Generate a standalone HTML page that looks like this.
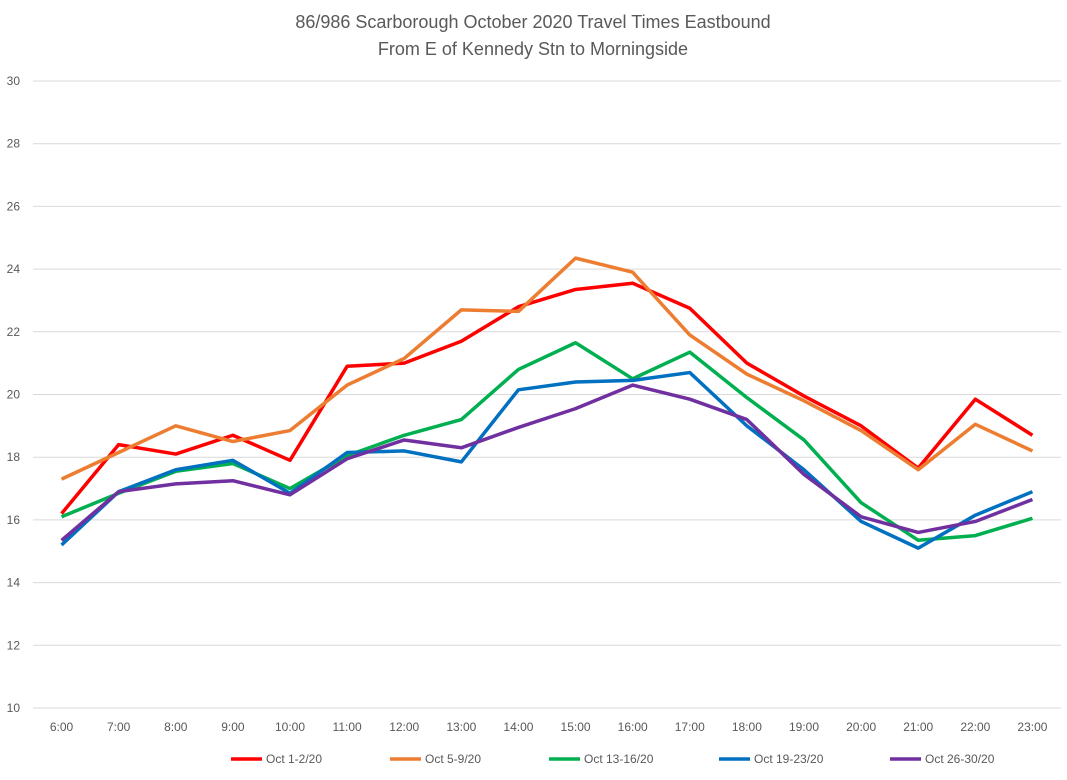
<!DOCTYPE html>
<html><head><meta charset="utf-8"><style>
body{margin:0;background:#fff;font-family:"Liberation Sans",sans-serif}
svg text{font-family:"Liberation Sans",sans-serif;fill:#595959}
</style></head><body>
<svg id="c" width="1067" height="775"></svg>
<script>
const categories=["6:00","7:00","8:00","9:00","10:00","11:00","12:00","13:00","14:00","15:00","16:00","17:00","18:00","19:00","20:00","21:00","22:00","23:00"];
const seriesNames=["Oct 1-2/20","Oct 5-9/20","Oct 13-16/20","Oct 19-23/20","Oct 26-30/20"];
const seriesColors=["#ff0000","#ed7d31","#00b050","#0070c0","#7030a0"];
const red=[16.2,18.4,18.1,18.7,17.9,20.9,21.0,21.7,22.8,23.35,23.55,22.75,21.0,19.95,19.0,17.65,19.85,18.7];
const orange=[17.3,18.15,19.0,18.5,18.85,20.3,21.15,22.7,22.65,24.35,23.9,21.9,20.65,19.8,18.85,17.6,19.05,18.2];
const green=[16.1,16.85,17.55,17.8,17.0,18.05,18.7,19.2,20.8,21.65,20.5,21.35,19.9,18.55,16.55,15.35,15.5,16.05];
const blue=[15.2,16.9,17.6,17.9,16.85,18.15,18.2,17.85,20.15,20.4,20.45,20.7,19.0,17.6,15.95,15.1,16.15,16.9];
const purple=[15.35,16.9,17.15,17.25,16.8,17.95,18.55,18.3,18.95,19.55,20.3,19.85,19.2,17.45,16.1,15.6,15.95,16.65];
const yTicks=[10,12,14,16,18,20,22,24,26,28,30];
const allSeries=[red,orange,green,blue,purple];
const svg=document.getElementById('c');const NS='http://www.w3.org/2000/svg';
const L=33,R=1061,T=81,B=708;
const bw=(R-L)/categories.length;
const x=i=>L+bw*(i+0.5);
const y=v=>B-(v-10)/20*(B-T);
function mk(t,a){const e=document.createElementNS(NS,t);for(const k in a)e.setAttribute(k,a[k]);svg.appendChild(e);return e;}
let t=mk('text',{x:533,y:28,'text-anchor':'middle','font-size':18});t.textContent="86/986 Scarborough October 2020 Travel Times Eastbound";


t=mk('text',{x:533,y:55,'text-anchor':'middle','font-size':18});t.textContent="From E of Kennedy Stn to Morningside";


yTicks.forEach(v=>{const g=mk('line',{x1:L,x2:R,y1:y(v),y2:y(v),stroke:'#d9d9d9','stroke-width':1});


const l=mk('text',{x:20,y:y(v)+4,'text-anchor':'end','font-size':12});l.textContent=v;

});
categories.forEach((c,i)=>{const l=mk('text',{x:x(i),y:731,'text-anchor':'middle','font-size':12});l.textContent=c;

});
allSeries.forEach((s,k)=>{const p=mk('polyline',{points:s.map((v,i)=>x(i)+','+y(v)).join(' '),fill:'none',stroke:seriesColors[k],'stroke-width':3.5,'stroke-linejoin':'round'});

});
const lx=[231,390,549,719,890];
seriesNames.forEach((n,k)=>{const g=mk('line',{x1:lx[k],x2:lx[k]+31,y1:759,y2:759,stroke:seriesColors[k],'stroke-width':3.5});


const l=mk('text',{x:lx[k]+35,y:763,'font-size':12});l.textContent=n;

});
</script>
</body></html>
